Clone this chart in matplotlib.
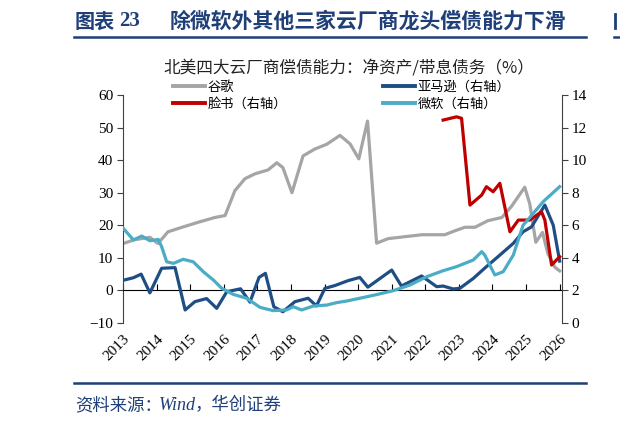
import matplotlib
matplotlib.use('Agg')
import matplotlib.pyplot as plt
from matplotlib.patches import Rectangle
from matplotlib.lines import Line2D

plt.rcParams['font.family'] = ['Noto Sans CJK SC', 'DejaVu Sans']

# --- data (year fraction, value) ---
# Google, left axis
google_t = [2013.03, 2013.36, 2013.80, 2014.04, 2014.34, 2014.76, 2015.23, 2015.74,
            2016.04, 2016.33, 2016.63, 2016.93, 2017.32, 2017.58, 2017.76, 2018.03,
            2018.36, 2018.71, 2019.07, 2019.46, 2019.76, 2020.02, 2020.28, 2020.55,
            2020.89, 2021.39, 2021.90, 2022.58, 2022.88, 2023.18, 2023.48, 2023.86,
            2024.28, 2024.58, 2024.96, 2025.11, 2025.29, 2025.49, 2025.65, 2025.86,
            2026.00]
google_v = [14.5, 15.6, 16.3, 14.4, 18.0, 19.4, 20.9, 22.4,
            23.0, 30.6, 34.3, 35.8, 37.0, 39.2, 37.7, 30.0,
            41.3, 43.4, 44.9, 47.6, 45.0, 40.4, 52.0, 14.5,
            15.9, 16.5, 17.1, 17.1, 18.3, 19.4, 19.4, 21.4,
            22.4, 26.0, 31.7, 26.6, 14.8, 17.8, 11.3, 7.1,
            6.0]

# Amazon, right axis
amazon_t = [2013.04, 2013.31, 2013.54, 2013.80, 2014.15, 2014.55, 2014.85, 2015.14,
            2015.49, 2015.79, 2016.09, 2016.50, 2016.78, 2017.05, 2017.24, 2017.49,
            2017.76, 2018.12, 2018.51, 2018.76, 2019.01, 2019.31, 2019.70, 2020.05,
            2020.29, 2021.00, 2021.29, 2021.89, 2022.34, 2022.53, 2022.83, 2023.03,
            2023.43, 2023.82, 2024.22, 2024.62, 2024.91, 2025.16, 2025.56, 2025.81,
            2026.00]
amazon_v = [2.64, 2.78, 3.00, 1.85, 3.36, 3.40, 0.80, 1.31,
            1.50, 0.90, 1.92, 2.10, 1.28, 2.80, 3.05, 1.00,
            0.69, 1.31, 1.52, 1.05, 2.13, 2.30, 2.60, 2.80,
            2.20, 3.25, 2.27, 2.89, 2.23, 2.27, 2.09, 2.13,
            2.74, 3.46, 4.17, 4.89, 5.60, 5.90, 7.24, 6.00,
            3.80]

# Facebook, right axis
fb_t = [2022.53, 2022.93, 2023.08, 2023.33, 2023.68, 2023.82, 2024.02, 2024.22,
        2024.52, 2024.77, 2025.11, 2025.46, 2025.56, 2025.76, 2026.00]
fb_v = [12.46, 12.66, 12.57, 7.24, 7.86, 8.37, 8.06, 8.58,
        5.60, 6.32, 6.32, 6.83, 6.32, 3.56, 4.07]

# Microsoft, right axis
msft_t = [2013.01, 2013.31, 2013.56, 2013.80, 2014.05, 2014.15, 2014.30, 2014.50,
          2014.79, 2015.09, 2015.39, 2015.69, 2015.94, 2016.28, 2016.68, 2017.08,
          2017.47, 2017.87, 2018.07, 2018.32, 2018.66, 2019.06, 2019.36, 2019.66,
          2020.05, 2020.50, 2021.04, 2021.54, 2022.04, 2022.53, 2022.93, 2023.43,
          2023.68, 2023.77, 2024.07, 2024.32, 2024.62, 2024.91, 2025.21, 2025.51,
          2026.00]
msft_v = [5.81, 5.10, 5.34, 5.05, 5.13, 4.69, 3.76, 3.66,
          3.91, 3.76, 3.15, 2.64, 2.13, 1.76, 1.52, 0.96,
          0.76, 0.80, 1.00, 0.80, 1.04, 1.10, 1.25, 1.35,
          1.52, 1.72, 1.98, 2.33, 2.84, 3.21, 3.46, 3.87,
          4.38, 4.17, 2.95, 3.15, 4.17, 6.00, 6.72, 7.45,
          8.37]

years = list(range(2013, 2027))
left_ticks = [-10, 0, 10, 20, 30, 40, 50, 60]
right_ticks = [0, 2, 4, 6, 8, 10, 12, 14]

GRAY = '#A5A5A5'
NAVY = '#1F4E85'
RED = '#C00000'
CYAN = '#4BACC6'
TITLE_BLUE = '#1F3F78'
SERIF = 'Liberation Serif'

fig = plt.figure(figsize=(6.2, 4.24), dpi=100)
ax = fig.add_axes([123 / 620, 1 - 323 / 424, (562 - 123) / 620, (323 - 95) / 424])
ax2 = ax.twinx()

lw = 2.3
ax.plot(google_t, google_v, color=GRAY, lw=lw, solid_joinstyle='round')
ax2.plot(amazon_t, amazon_v, color=NAVY, lw=lw, solid_joinstyle='round')
ax2.plot(fb_t, fb_v, color=RED, lw=lw, solid_joinstyle='round')
ax2.plot(msft_t, msft_v, color=CYAN, lw=lw, solid_joinstyle='round')

ax.set_xlim(2013, 2026.07)
ax.set_ylim(-10, 60)
ax2.set_ylim(0, 14)
ax.set_yticks(left_ticks)
ax2.set_yticks(right_ticks)
ax.set_xticks(years)

for a in (ax, ax2):
    a.spines['top'].set_visible(False)
ax.spines['right'].set_visible(False)
ax2.spines['left'].set_visible(False)
ax2.spines['bottom'].set_visible(False)
ax.spines['bottom'].set_position(('data', 0))
ax.spines['bottom'].set_color('black')
ax.spines['left'].set_color('#404040')
ax2.spines['right'].set_color('#404040')

ax.tick_params(axis='y', direction='out', length=4, color='#404040',
               labelsize=11, labelfontfamily=SERIF, pad=3)
ax2.tick_params(axis='y', direction='out', length=4, color='#404040',
                labelsize=11, labelfontfamily=SERIF, pad=3)
ax.tick_params(axis='x', direction='in', length=4, color='black',
               labelsize=11, labelfontfamily=SERIF, pad=30)
ax.set_xticklabels([str(y) for y in years])
for lbl in ax.get_xticklabels():
    lbl.set_rotation(45)
    lbl.set_ha('right')
    lbl.set_rotation_mode('anchor')

# legend
handles = [Line2D([], [], color=GRAY, lw=2.8),
           Line2D([], [], color=RED, lw=2.8),
           Line2D([], [], color=NAVY, lw=2.8),
           Line2D([], [], color=CYAN, lw=2.8)]
labels = ['谷歌', '脸书（右轴）', '亚马逊（右轴）', '微软（右轴）']
fig.legend(handles, labels, ncol=2, loc='upper left',
           bbox_to_anchor=(173 / 620, 1 - 81 / 424), bbox_transform=fig.transFigure,
           frameon=False, borderpad=0, borderaxespad=0, fontsize=9.5,
           handlelength=2.4, handletextpad=0.2, labelspacing=0.25,
           columnspacing=7.3)

# chart subtitle
fig.text(349 / 620, 1 - 68 / 424, '北美四大云厂商偿债能力：净资产/带息债务（%）',
         ha='center', va='center', fontsize=12, color='#222222')

# report header
fig.text(75 / 620, 1 - 21 / 424, '图表', ha='left', va='center',
         fontsize=14.5, fontweight='bold', color=TITLE_BLUE)
fig.text(119 / 620, 1 - 21 / 424, '23', ha='left', va='center', family=SERIF,
         fontsize=15, fontweight='bold', color=TITLE_BLUE)
fig.text(170 / 620, 1 - 21 / 424, '除微软外其他三家云厂商龙头偿债能力下滑', ha='left',
         va='center', fontsize=15, fontweight='bold', color=TITLE_BLUE)
fig.add_artist(Line2D([74 / 620, 586 / 620], [1 - 37 / 424] * 2, color=TITLE_BLUE,
                      lw=1.8, transform=fig.transFigure))
fig.add_artist(Line2D([614 / 620, 620 / 620], [1 - 37 / 424] * 2, color=TITLE_BLUE,
                      lw=1.8, transform=fig.transFigure))
fig.add_artist(Line2D([615 / 620] * 2, [1 - 14 / 424, 1 - 28 / 424], color=TITLE_BLUE,
                      lw=2, transform=fig.transFigure))

# footer
fig.add_artist(Line2D([74 / 620, 586 / 620], [1 - 383 / 424] * 2, color=TITLE_BLUE,
                      lw=1.8, transform=fig.transFigure))
fig.text(75 / 620, 1 - 405 / 424, '资料来源：', ha='left', va='center',
         fontsize=12.5, color=TITLE_BLUE)
fig.text(159 / 620, 1 - 405 / 424, 'Wind', ha='left', va='center', family=SERIF,
         fontsize=13, style='italic', color=TITLE_BLUE)
fig.text(195 / 620, 1 - 405 / 424, '，华创证券', ha='left', va='center',
         fontsize=12.5, color=TITLE_BLUE)

# the source image is clipped on the right edge of the right-axis labels
fig.add_artist(Rectangle((587 / 620, 1 - 345 / 424), 1, (345 - 75) / 424,
                         transform=fig.transFigure, facecolor='white',
                         edgecolor='none', zorder=10))

fig.savefig('out.png', dpi=100)
